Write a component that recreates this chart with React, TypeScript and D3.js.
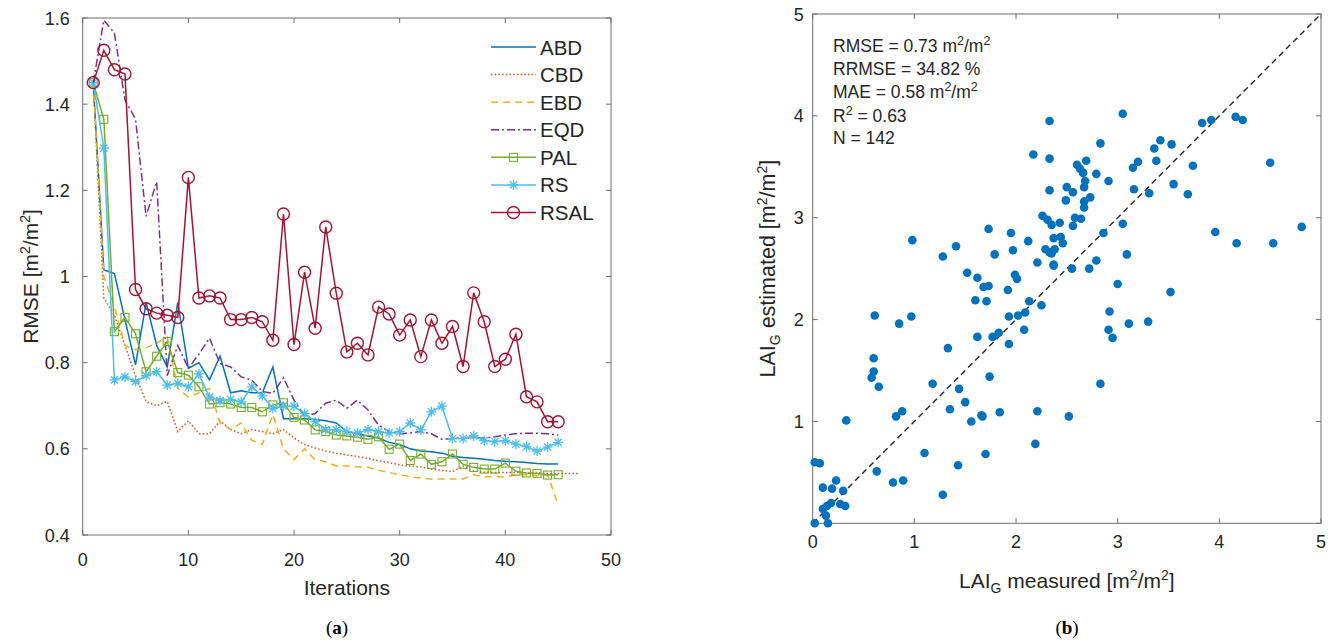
import React from "react";
import * as d3 from "d3";

// ---------- Data: panel (a) ----------
const ABD = [1.45, 1.015, 1.007, 0.9, 0.795, 0.94, 0.84, 0.79, 0.94, 0.787, 0.8, 0.76, 0.815, 0.73, 0.735, 0.73, 0.73, 0.79, 0.67, 0.67, 0.67, 0.668, 0.665, 0.66, 0.64, 0.635, 0.63, 0.625, 0.615, 0.61, 0.6, 0.595, 0.593, 0.59, 0.583, 0.58, 0.578, 0.576, 0.573, 0.571, 0.57, 0.568, 0.566, 0.565, 0.565];
const CBD = [1.45, 0.95, 0.91, 0.84, 0.77, 0.71, 0.7, 0.71, 0.64, 0.665, 0.635, 0.635, 0.665, 0.645, 0.635, 0.645, 0.64, 0.635, 0.645, 0.625, 0.61, 0.602, 0.595, 0.59, 0.586, 0.582, 0.578, 0.572, 0.568, 0.563, 0.56, 0.558, 0.553, 0.55, 0.547, 0.56, 0.548, 0.546, 0.545, 0.545, 0.545, 0.544, 0.544, 0.543, 0.543, 0.543, 0.543];
const EBD = [1.45, 1.0, 0.93, 0.84, 0.83, 0.835, 0.845, 0.86, 0.74, 0.72, 0.73, 0.74, 0.66, 0.645, 0.66, 0.62, 0.61, 0.68, 0.6, 0.575, 0.6, 0.575, 0.57, 0.56, 0.56, 0.558, 0.557, 0.55, 0.545, 0.54, 0.535, 0.532, 0.53, 0.53, 0.53, 0.53, 0.54, 0.535, 0.535, 0.535, 0.54, 0.54, 0.538, 0.54, 0.47];
const EQD = [1.45, 1.595, 1.565, 1.41, 1.365, 1.14, 1.22, 0.77, 0.84, 0.787, 0.82, 0.857, 0.798, 0.79, 0.767, 0.76, 0.733, 0.729, 0.765, 0.713, 0.675, 0.682, 0.706, 0.713, 0.694, 0.713, 0.69, 0.655, 0.64, 0.635, 0.637, 0.64, 0.635, 0.622, 0.624, 0.626, 0.625, 0.625, 0.628, 0.632, 0.635, 0.636, 0.636, 0.635, 0.632];
const PAL = [1.45, 1.365, 0.872, 0.905, 0.867, 0.779, 0.815, 0.849, 0.777, 0.771, 0.744, 0.704, 0.707, 0.704, 0.696, 0.696, 0.686, 0.702, 0.707, 0.673, 0.667, 0.644, 0.64, 0.632, 0.63, 0.627, 0.622, 0.628, 0.599, 0.611, 0.573, 0.588, 0.564, 0.57, 0.588, 0.564, 0.557, 0.553, 0.553, 0.567, 0.548, 0.544, 0.543, 0.539, 0.54];
const RS = [1.45, 1.298, 0.76, 0.767, 0.756, 0.77, 0.779, 0.748, 0.752, 0.744, 0.774, 0.72, 0.712, 0.715, 0.709, 0.744, 0.723, 0.694, 0.699, 0.699, 0.682, 0.663, 0.645, 0.644, 0.64, 0.637, 0.645, 0.64, 0.637, 0.64, 0.66, 0.644, 0.686, 0.699, 0.624, 0.624, 0.63, 0.619, 0.617, 0.619, 0.611, 0.605, 0.595, 0.604, 0.615];
const RSAL = [1.45, 1.525, 1.48, 1.47, 0.97, 0.925, 0.915, 0.91, 0.905, 1.23, 0.95, 0.955, 0.95, 0.9, 0.9, 0.905, 0.895, 0.852, 1.145, 0.842, 1.01, 0.88, 1.115, 0.961, 0.825, 0.845, 0.818, 0.929, 0.913, 0.864, 0.899, 0.814, 0.899, 0.845, 0.884, 0.791, 0.962, 0.895, 0.791, 0.808, 0.866, 0.721, 0.709, 0.663, 0.663];
const seriesNames = ["ABD", "CBD", "EBD", "EQD", "PAL", "RS", "RSAL"];
const xTicksA = [0, 10, 20, 30, 40, 50];
const yTicksA = [0.4, 0.6, 0.8, 1, 1.2, 1.4, 1.6];

// ---------- Data: panel (b) ----------
const measured = [0.02, 0.15, 0.13, 0.1, 0.14, 0.18, 0.27, 0.32, 0.1, 0.19, 0.23, 0.3, 0.02, 0.07, 0.33, 0.63, 0.61, 0.6, 0.6, 0.58, 0.65, 0.79, 0.89, 0.82, 0.88, 0.85, 0.97, 1.1, 1.18, 1.33, 1.28, 1.28, 1.43, 1.44, 1.35, 1.5, 1.56, 1.66, 1.67, 1.7, 1.74, 1.84, 1.52, 1.62, 1.68, 1.73, 1.6, 1.71, 1.62, 1.77, 1.83, 1.93, 1.93, 2.02, 2.09, 2.08, 2.13, 2.25, 1.92, 1.99, 2.01, 1.79, 1.97, 2.21, 2.37, 2.33, 2.19, 2.21, 2.52, 3.05, 2.33, 3.83, 3.92, 4.16, 4.23, 2.83, 3.42, 3.36, 3.53, 2.33, 2.69, 2.6, 2.63, 2.66, 3.2, 3.38, 3.15, 3.74, 4.5, 2.79, 2.91, 2.68, 2.5, 2.67, 2.56, 2.33, 3.16, 3.55, 3.31, 3.69, 2.49, 2.73, 2.67, 2.67, 2.58, 2.64, 2.43, 2.56, 2.35, 3.05, 2.86, 2.37, 2.44, 2.46, 2.38, 2.35, 3.09, 2.37, 2.55, 2.72, 2.79, 3.96, 4.17, 4.53, 4.81, 3.0, 3.52, 2.92, 2.91, 2.95, 3.11, 3.3, 2.17, 2.26, 2.31, 2.29, 2.12, 1.95, 1.73, 1.41, 2.83, 0.98];
const estimated = [0.0, 0.0, 0.075, 0.14, 0.17, 0.2, 0.19, 0.17, 0.35, 0.34, 0.42, 0.32, 0.6, 0.59, 1.01, 0.51, 2.04, 1.62, 1.49, 1.43, 1.34, 0.4, 0.42, 1.05, 1.1, 1.96, 2.03, 0.69, 1.37, 1.72, 0.28, 2.62, 0.57, 1.32, 1.12, 1.19, 1.0, 1.06, 1.05, 0.68, 1.44, 1.09, 2.46, 2.41, 2.32, 2.33, 2.19, 2.18, 1.83, 1.83, 1.87, 1.76, 2.03, 2.04, 2.07, 1.9, 2.18, 2.14, 2.29, 2.44, 2.4, 2.64, 2.68, 2.56, 2.53, 2.66, 0.78, 1.1, 1.05, 4.02, 3.95, 3.93, 3.96, 3.99, 3.96, 3.73, 3.76, 3.68, 3.72, 3.58, 3.56, 3.52, 3.48, 3.44, 3.55, 3.56, 3.49, 3.51, 3.54, 3.43, 3.36, 3.36, 3.3, 3.3, 3.25, 3.27, 3.28, 3.33, 3.24, 3.23, 3.17, 3.2, 3.16, 3.1, 3.0, 2.99, 2.95, 2.92, 2.93, 2.94, 2.85, 2.8, 2.81, 2.75, 2.69, 2.65, 2.64, 2.54, 2.5, 2.5, 2.58, 2.86, 2.75, 2.75, 2.91, 2.35, 2.27, 2.08, 1.9, 1.82, 1.96, 1.98, 3.62, 3.02, 2.98, 2.69, 2.77, 2.85, 2.89, 2.72, 1.37, 2.78];
const ticksB = [0, 1, 2, 3, 4, 5];
const statsLines = ["RMSE = 0.73", "RRMSE = 34.82 %", "MAE = 0.58", "R", "N = 142"];

const colors: Record<string, string> = {
  ABD: "#0072BD", CBD: "#D95319", EBD: "#EDB120", EQD: "#7E2F8E",
  PAL: "#77AC30", RS: "#4DBEEE", RSAL: "#A2142F",
};
const dashes: Record<string, string | undefined> = {
  ABD: undefined, CBD: "1.5,2.2", EBD: "7,5", EQD: "8,3,2,3",
  PAL: undefined, RS: undefined, RSAL: undefined,
};
const dataA: Record<string, number[]> = { ABD, CBD, EBD, EQD, PAL, RS, RSAL };

const FONT = "'Liberation Sans', Arial, Helvetica, sans-serif";
const AX = "#6e6e6e";
const TXT = "#262626";

function Marker({ name, x, y }: { name: string; x: number; y: number }) {
  const c = colors[name];
  if (name === "PAL") {
    return <rect x={x - 4} y={y - 4} width={8} height={8} fill="none" stroke={c} strokeWidth={1.1} />;
  }
  if (name === "RS") {
    const s = 5, d = 3.6;
    return (
      <path
        d={`M${x - s},${y}L${x + s},${y}M${x},${y - s}L${x},${y + s}M${x - d},${y - d}L${x + d},${y + d}M${x - d},${y + d}L${x + d},${y - d}`}
        stroke={c} strokeWidth={1.3} fill="none"
      />
    );
  }
  if (name === "RSAL") {
    return <circle cx={x} cy={y} r={6} fill="none" stroke={c} strokeWidth={1.4} />;
  }
  return null;
}

function PanelA() {
  const x = d3.scaleLinear().domain([0, 50]).range([82.7, 611]);
  const y = d3.scaleLinear().domain([0.4, 1.6]).range([535, 18]);
  const line = d3.line<number>().x((_, i) => x(i + 1)).y((d) => y(d));
  const [x0, x1] = x.range();
  const [y0, y1] = y.range();
  const legendY = d3.scaleLinear().domain([0, 6]).range([47, 212.5]);
  return (
    <g>
      <rect x={x0} y={y1} width={x1 - x0} height={y0 - y1} fill="none" stroke={AX} strokeWidth={1} />
      {xTicksA.map((t) => (
        <g key={"xa" + t}>
          <line x1={x(t)} x2={x(t)} y1={y0} y2={y0 - 5} stroke={AX} />
          <line x1={x(t)} x2={x(t)} y1={y1} y2={y1 + 5} stroke={AX} />
          <text x={x(t)} y={y0 + 31} textAnchor="middle" fontSize={18} fill={TXT} fontFamily={FONT}>{t}</text>
        </g>
      ))}
      {yTicksA.map((t) => (
        <g key={"ya" + t}>
          <line x1={x0} x2={x0 + 5} y1={y(t)} y2={y(t)} stroke={AX} />
          <line x1={x1} x2={x1 - 5} y1={y(t)} y2={y(t)} stroke={AX} />
          <text x={x0 - 13} y={y(t) + 6.5} textAnchor="end" fontSize={18} fill={TXT} fontFamily={FONT}>{String(t)}</text>
        </g>
      ))}
      {seriesNames.map((n) => (
        <g key={n}>
          <path d={line(dataA[n]) || ""} fill="none" stroke={colors[n]} strokeWidth={1.5} strokeDasharray={dashes[n]} />
          {dataA[n].map((v, i) => <Marker key={i} name={n} x={x(i + 1)} y={y(v)} />)}
        </g>
      ))}
      {seriesNames.map((n, i) => (
        <g key={"lg" + n}>
          <line x1={491} x2={536} y1={legendY(i)} y2={legendY(i)} stroke={colors[n]} strokeWidth={1.5} strokeDasharray={dashes[n]} />
          <Marker name={n} x={513.5} y={legendY(i)} />
          <text x={540} y={legendY(i) + 7.5} fontSize={20.5} fill={TXT} fontFamily={FONT}>{n}</text>
        </g>
      ))}
      <text x={(x0 + x1) / 2} y={y0 + 60} textAnchor="middle" fontSize={21} fill={TXT} fontFamily={FONT}>Iterations</text>
      <text transform={`translate(38,${(y0 + y1) / 2}) rotate(-90)`} textAnchor="middle" fontSize={21} fill={TXT} fontFamily={FONT}>
        RMSE [m<tspan dy={-8} fontSize={14}>2</tspan><tspan dy={8}>/m</tspan><tspan dy={-8} fontSize={14}>2</tspan><tspan dy={8}>]</tspan>
      </text>
      <text x={337} y={634} textAnchor="middle" fontSize={19} fill="#000" fontFamily="'Liberation Serif', 'Times New Roman', serif">
        (<tspan fontWeight="bold">a</tspan>)
      </text>
    </g>
  );
}

function PanelB() {
  const x = d3.scaleLinear().domain([0, 5]).range([812.7, 1321]);
  const y = d3.scaleLinear().domain([0, 5]).range([523.3, 14]);
  const [x0, x1] = x.range();
  const [y0, y1] = y.range();
  const pts = measured.map((m, i) => [m, estimated[i]] as [number, number]);
  return (
    <g>
      <rect x={x0} y={y1} width={x1 - x0} height={y0 - y1} fill="none" stroke={AX} strokeWidth={1} />
      {ticksB.map((t) => (
        <g key={"xb" + t}>
          <line x1={x(t)} x2={x(t)} y1={y0} y2={y0 - 5} stroke={AX} />
          <line x1={x(t)} x2={x(t)} y1={y1} y2={y1 + 5} stroke={AX} />
          <text x={x(t)} y={y0 + 25} textAnchor="middle" fontSize={18} fill={TXT} fontFamily={FONT}>{t}</text>
        </g>
      ))}
      {ticksB.map((t) => (
        <g key={"yb" + t}>
          <line x1={x0} x2={x0 + 5} y1={y(t)} y2={y(t)} stroke={AX} />
          <line x1={x1} x2={x1 - 5} y1={y(t)} y2={y(t)} stroke={AX} />
          {t > 0 && (
            <text x={x0 - 9} y={y(t) + 6.5} textAnchor="end" fontSize={18} fill={TXT} fontFamily={FONT}>{t}</text>
          )}
        </g>
      ))}
      <line x1={x(0)} y1={y(0)} x2={x(5)} y2={y(5)} stroke="#262626" strokeWidth={1.4} strokeDasharray="6,4" />
      {pts.map((p, i) => (
        <circle key={i} cx={x(p[0])} cy={y(p[1])} r={4.3} fill="#0072BD" />
      ))}
      <g fontSize={17.5} fill={TXT} fontFamily={FONT}>
        <text x={833} y={52}>{statsLines[0]} m<tspan dy={-7} fontSize={12.5}>2</tspan><tspan dy={7}>/m</tspan><tspan dy={-7} fontSize={12.5}>2</tspan></text>
        <text x={833} y={75}>{statsLines[1]}</text>
        <text x={833} y={98}>{statsLines[2]} m<tspan dy={-7} fontSize={12.5}>2</tspan><tspan dy={7}>/m</tspan><tspan dy={-7} fontSize={12.5}>2</tspan></text>
        <text x={833} y={122}>{statsLines[3]}<tspan dy={-7} fontSize={12.5}>2</tspan><tspan dy={7}> = 0.63</tspan></text>
        <text x={833} y={144}>{statsLines[4]}</text>
      </g>
      <text x={(x0 + x1) / 2} y={588} textAnchor="middle" fontSize={21} fill={TXT} fontFamily={FONT}>
        LAI<tspan dy={5} fontSize={14}>G</tspan><tspan dy={-5}> measured [m</tspan><tspan dy={-8} fontSize={14}>2</tspan><tspan dy={8}>/m</tspan><tspan dy={-8} fontSize={14}>2</tspan><tspan dy={8}>]</tspan>
      </text>
      <text transform={`translate(775,${(y0 + y1) / 2}) rotate(-90)`} textAnchor="middle" fontSize={21.5} fill={TXT} fontFamily={FONT}>
        LAI<tspan dy={5} fontSize={14}>G</tspan><tspan dy={-5}> estimated [m</tspan><tspan dy={-8} fontSize={14}>2</tspan><tspan dy={8}>/m</tspan><tspan dy={-8} fontSize={14}>2</tspan><tspan dy={8}>]</tspan>
      </text>
      <text x={1067} y={634} textAnchor="middle" fontSize={19} fill="#000" fontFamily="'Liberation Serif', 'Times New Roman', serif">
        (<tspan fontWeight="bold">b</tspan>)
      </text>
    </g>
  );
}

export default function App() {
  return (
    <svg width={1342} height={643} style={{ position: "absolute", left: 0, top: 0, background: "#fff" }}>
      <rect width={1342} height={643} fill="#fff" />
      <PanelA />
      <PanelB />
    </svg>
  );
}
